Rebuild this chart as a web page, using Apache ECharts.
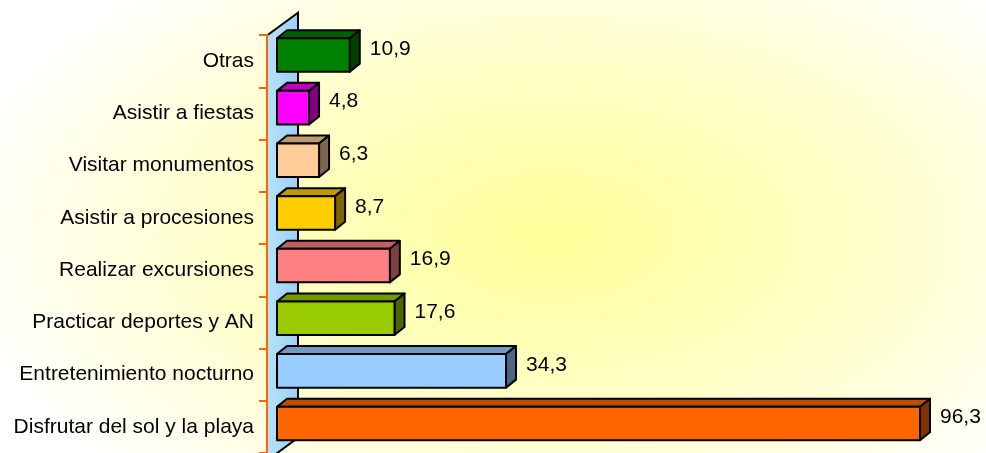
<!DOCTYPE html>
<html>
<head>
<meta charset="utf-8">
<script src="https://cdn.jsdelivr.net/npm/echarts@6/dist/echarts.min.js"></script>
<style>
html,body{margin:0;padding:0;}
body{background: radial-gradient(ellipse 62% 75% at 56% 52%, #FFFF99 0%, #FFFFCC 55%, #FFFFFF 100%);}
#c{width:986px;height:453px;}
</style>
</head>
<body>
<div id="c"></div>
<script>
var categories = ['Otras','Asistir a fiestas','Visitar monumentos','Asistir a procesiones','Realizar excursiones','Practicar deportes y AN','Entretenimiento nocturno','Disfrutar del sol y la playa'];
var values = [10.9, 4.8, 6.3, 8.7, 16.9, 17.6, 34.3, 96.3];
var frontColors = ['#008000','#FF00FF','#FFCC99','#FFCC00','#FF8080','#99CC00','#99CCFF','#FF6600'];
var topColors   = ['#006000','#C000C0','#C09973','#C09900','#C06060','#739900','#7399C0','#C04D00'];
var sideColors  = ['#004000','#800080','#806650','#806600','#804040','#4D6600','#4D6680','#803300'];

var DX = 10, DY = -8, HALF = 16.8;
var FONT = 'Arial, "Liberation Sans", sans-serif';

var chart = echarts.init(document.getElementById('c'));

function renderBar(params, api) {
  var i = api.value(1);
  var v = api.value(0);
  var p0 = api.coord([0, i]);
  var p1 = api.coord([v, i]);
  var x0 = p0[0], x1 = p1[0], cy = p0[1];
  var t = cy - HALF, b = cy + HALF;
  var st = {stroke:'#000', lineWidth:2, lineJoin:'round'};
  return {
    type:'group',
    children:[
      {type:'polygon', shape:{points:[[x0,t],[x0+DX,t+DY],[x1+DX,t+DY],[x1,t]]}, style:Object.assign({fill:topColors[i]}, st)},
      {type:'polygon', shape:{points:[[x1,t],[x1+DX,t+DY],[x1+DX,b+DY],[x1,b]]}, style:Object.assign({fill:sideColors[i]}, st)},
      {type:'rect', shape:{x:x0, y:t, width:x1-x0, height:b-t}, style:Object.assign({fill:frontColors[i]}, st)},
      {type:'text', style:{x:x1+DX+10, y:cy-6, text:v.toFixed(1).replace('.', ','), fill:'#000', font:'21px ' + FONT, textAlign:'left', textVerticalAlign:'middle'}}
    ]
  };
}

function renderWall(params, api) {
  var cs = params.coordSys;
  var fx = cs.x - 9, bx = fx + 30;
  var top = cs.y + 6, bottom = cs.y + cs.height + 10;
  return {
    type:'group',
    children:[
      {type:'polygon', shape:{points:[[fx,top],[bx,top-22],[bx,bottom-22],[fx,bottom]]},
       style:{fill:new echarts.graphic.LinearGradient(0,0,1,0,[{offset:0,color:'#B5E1FB'},{offset:1,color:'#9DD0F5'}]), stroke:null}},
      {type:'polyline', shape:{points:[[fx,top],[bx,top-22],[bx,bottom-22],[fx,bottom]]}, style:{stroke:'#000', lineWidth:2, fill:null}}
    ]
  };
}

var barData = values.map(function(v, i){ return [v, i]; });

chart.setOption({
  backgroundColor:'transparent',
  animation:false,
  grid:[
    {left:277, width:667.7, top:28.7, height:421.1},
    {left:267, width:10, top:35, height:421.1}
  ],
  xAxis:[
    {gridIndex:0, type:'value', min:0, max:100, show:false},
    {gridIndex:1, type:'value', min:0, max:1, show:false}
  ],
  yAxis:[
    {gridIndex:0, type:'category', data:categories, inverse:true, show:false},
    {gridIndex:1, type:'category', data:categories, inverse:true, z:5,
     axisLine:{show:true, lineStyle:{color:'#FF6600', width:2}},
     axisTick:{show:true, length:8, lineStyle:{color:'#FF6600', width:2}},
     axisLabel:{margin:13, color:'#000', fontSize:21, fontFamily:FONT},
     splitLine:{show:false}}
  ],
  series:[
    {type:'custom', xAxisIndex:0, yAxisIndex:0, z:1, renderItem:renderWall, data:[[0,0]], silent:true, clip:false},
    {type:'custom', xAxisIndex:0, yAxisIndex:0, z:3, renderItem:renderBar, data:barData, encode:{x:0, y:1}, clip:false}
  ]
});
</script>
</body>
</html>
